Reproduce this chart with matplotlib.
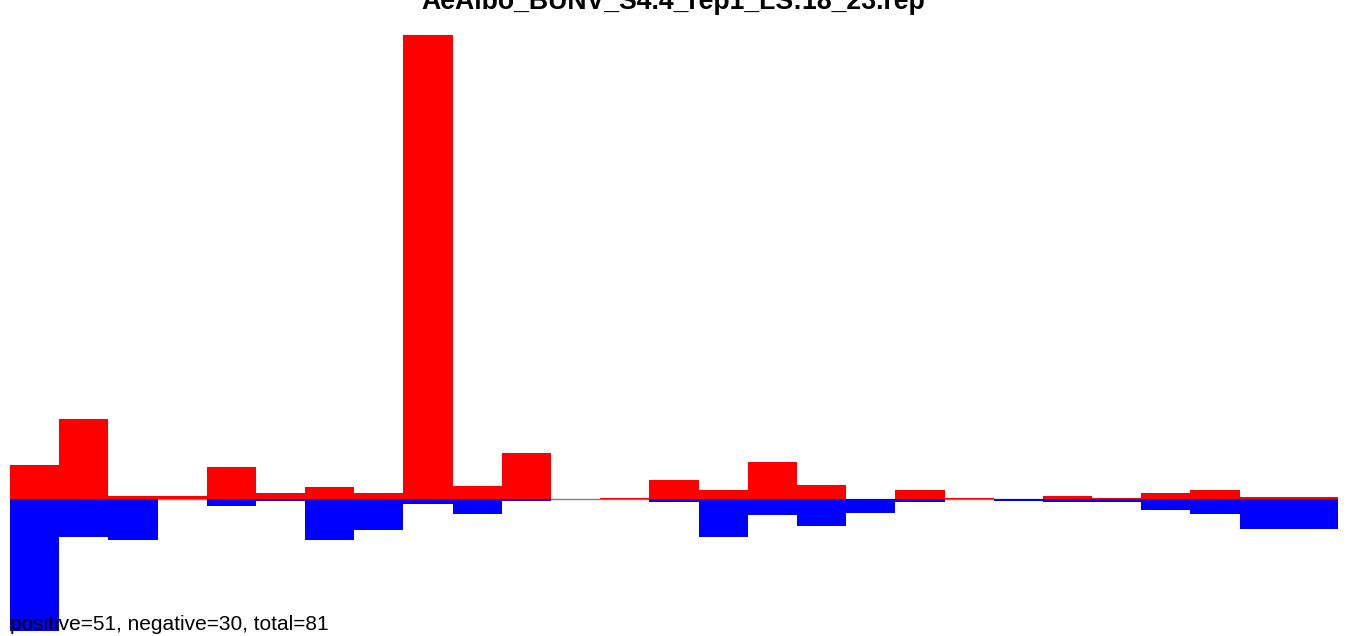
import matplotlib
matplotlib.use('Agg')
import matplotlib.pyplot as plt
import numpy as np

plt.rcParams['font.family'] = ['Liberation Sans', 'DejaVu Sans']

title = 'AeAlbo_BUNV_S4.4_rep1_LS:18_23.rep'
note = 'positive=51, negative=30, total=81'

# bar heights (one per bin, 27 bins)
positive = [34, 80, 3, 3, 32, 6, 12, 6, 464, 13, 46, 0, 1, 19, 9, 37, 14, 0, 9, 1,
            0.5, 3, 1, 6, 9, 2, 2]
negative = [132, 38, 41, 0, 7, 1.5, 41, 31, 5, 15, 2, 0, 0, 3, 38, 16, 27, 14, 3, 0,
            1.5, 3, 3, 11, 15, 30, 30]

W, H = 1347, 636
fig = plt.figure(figsize=(W / 100, H / 100), dpi=100)
ax = fig.add_axes([10 / W, 0, 1328 / W, (H - 35) / H])

x = np.arange(len(positive))
ax.axhline(0, color='grey', lw=1, zorder=0)
ax.bar(x, positive, width=1, align='edge', color='#ff0000', linewidth=0)
ax.bar(x, -np.array(negative), width=1, align='edge', color='#0000ff', linewidth=0)

ax.set_xlim(0, len(positive))
ax.set_ylim(-137, 464)
ax.axis('off')

# title is clipped at the top edge, as in the original
fig.text(0.5, 1 - 9 / H, title, ha='center', va='baseline', fontsize=19.2, fontweight='bold')
fig.text(10 / W, 6 / H, note, ha='left', va='baseline', fontsize=15)

fig.savefig('out.png', dpi=100)
